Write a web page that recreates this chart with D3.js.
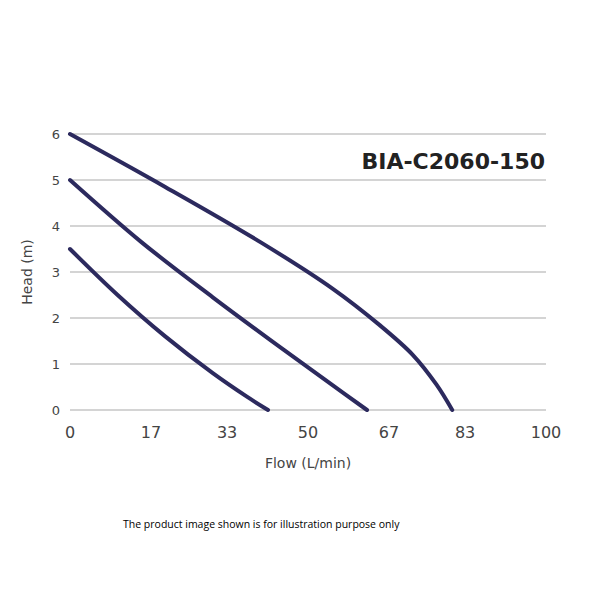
<!DOCTYPE html>
<html><head><meta charset="utf-8">
<script src="https://cdn.jsdelivr.net/npm/d3@7"></script>
<style>body{margin:0;background:#fff}</style>
</head><body>
<svg id="c" width="600" height="600"></svg>
<script>
const xTicks = [0, 17, 33, 50, 67, 83, 100]
const yTicks = [0, 1, 2, 3, 4, 5, 6]
const curveHigh = [[0,6],[20,4.85],[40,3.65],[55,2.65],[65,1.85],[72,1.2],[77,0.55],[80.3,0]]
const curveMid = [[0,5],[15,3.65],[30,2.45],[45,1.3],[55,0.55],[62.4,0]]
const curveLow = [[0,3.5],[10,2.5],[20,1.6],[30,0.8],[37,0.3],[41.6,0]]
const title = 'BIA-C2060-150'
const note = 'The product image shown is for illustration purpose only'

const svg = d3.select('#c')
const x = d3.scaleLinear().domain([0, 100]).range([70, 546])
const y = d3.scaleLinear().domain([0, 6]).range([410, 134])

svg.selectAll('.grid').data(yTicks).enter().append('line')
  .attr('x1', x(0)).attr('x2', x(100))
  .attr('y1', d => y(d)).attr('y2', d => y(d))
  .attr('stroke', '#aaa').attr('stroke-width', 1.2)

const font = "'DejaVu Sans', sans-serif"
svg.selectAll('.xt').data(xTicks).enter().append('text')
  .attr('x', d => x(d)).attr('y', 438).attr('text-anchor', 'middle')
  .attr('font-family', font).attr('font-size', 16).attr('fill', '#444').text(d => d)
svg.selectAll('.yt').data(yTicks).enter().append('text')
  .attr('x', 60).attr('y', d => y(d) + 5).attr('text-anchor', 'end')
  .attr('font-family', font).attr('font-size', 13).attr('fill', '#444').text(d => d)

svg.append('text').attr('x', 308).attr('y', 468).attr('text-anchor', 'middle')
  .attr('font-family', font).attr('font-size', 14).attr('fill', '#444').text('Flow (L/min)')
svg.append('text').attr('transform', 'translate(32,272) rotate(-90)').attr('text-anchor', 'middle')
  .attr('font-family', font).attr('font-size', 14).attr('fill', '#444').text('Head (m)')

svg.append('text').attr('x', 545).attr('y', 169).attr('text-anchor', 'end')
  .attr('font-family', font).attr('font-weight', 'bold').attr('font-size', 22).attr('fill', '#222').text(title)

const line = d3.line().x(d => x(d[0])).y(d => y(d[1])).curve(d3.curveCatmullRom)
;[curveHigh, curveMid, curveLow].forEach(c => {
  svg.append('path').attr('d', line(c)).attr('fill', 'none')
    .attr('stroke', '#2c2a5e').attr('stroke-width', 4).attr('stroke-linecap', 'round')
})

svg.append('text').attr('x', 123).attr('y', 528)
  .attr('font-family', "'Open Sans', sans-serif").attr('font-size', 10.5).attr('fill', '#000').text(note)
</script>
</body></html>
